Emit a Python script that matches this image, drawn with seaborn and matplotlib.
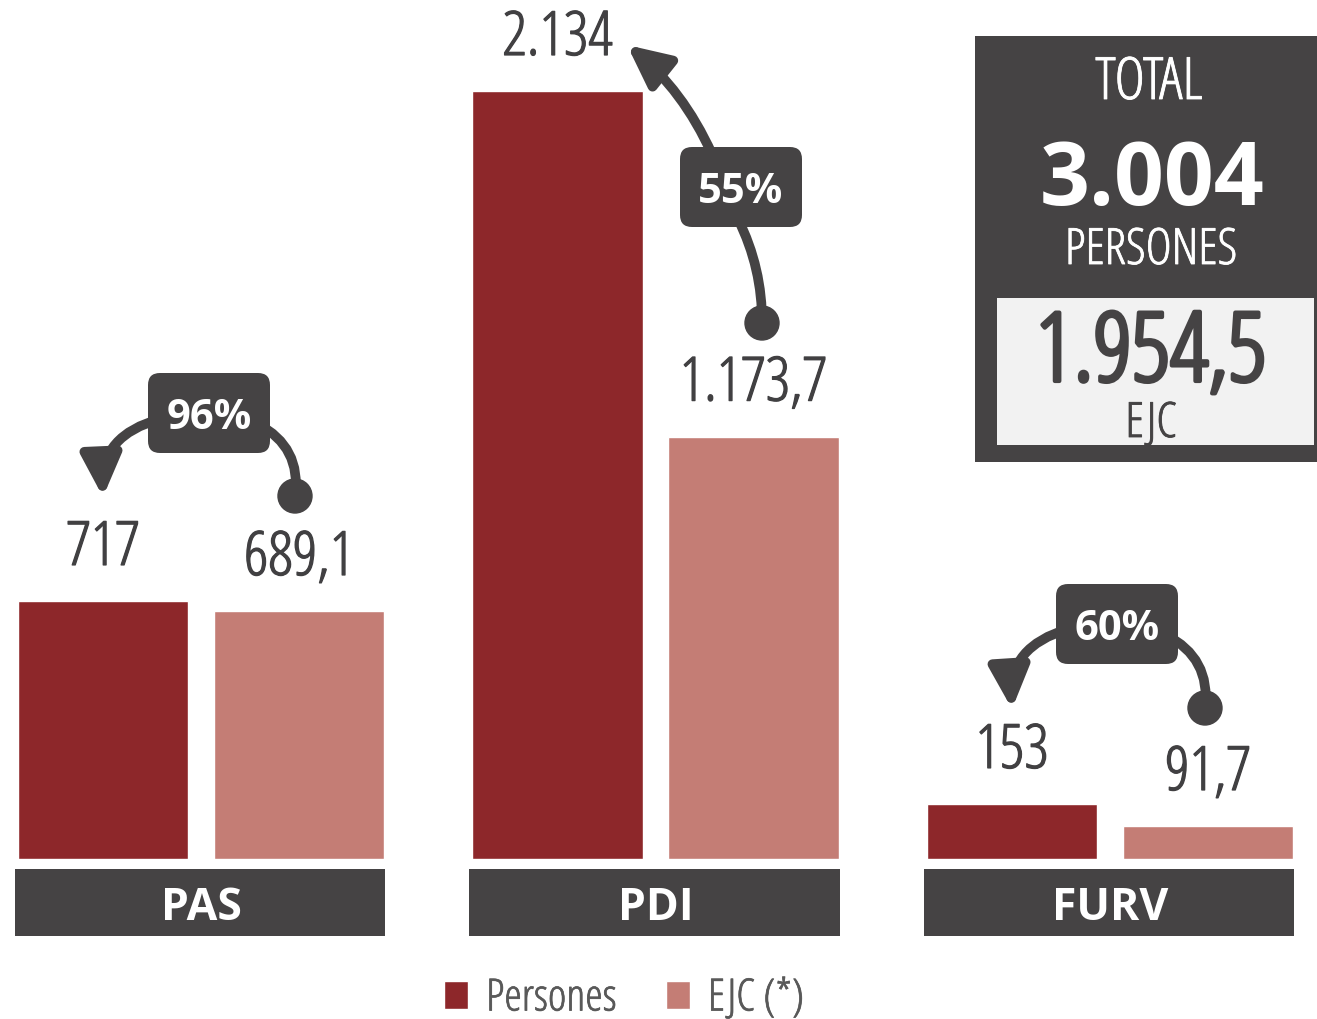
import numpy as np
import pandas as pd
import seaborn as sns
import matplotlib.pyplot as plt
import matplotlib.patheffects as pe
from matplotlib.patches import FancyArrowPatch, FancyBboxPatch, Rectangle, Circle

# dades
categories = ["PAS", "PDI", "FURV"]
series = ["Persones", "EJC (*)"]
persones = [717, 2134, 153]
ejc = [689.1, 1173.7, 91.7]
persones_labels = ["717", "2.134", "153"]
ejc_labels = ["689,1", "1.173,7", "91,7"]
total_persones = "3.004"
total_ejc = "1.954,5"

W, H = 1317, 1020
RED = "#8D272A"
PINK = "#C47D75"
DARK = "#454344"
TXT = "#414042"

sns.set_theme(style="white")
plt.rcParams["font.family"] = ["Open Sans", "DejaVu Sans"]
plt.rcParams["font.stretch"] = "condensed"

fig = plt.figure(figsize=(W / 100, H / 100), dpi=100)
ax = fig.add_axes([0, 160 / H, 1, 860 / H])

df = pd.DataFrame({
    "cat": categories * 2,
    "tipus": [series[0]] * 3 + [series[1]] * 3,
    "valor": persones + ejc,
})
sns.barplot(data=df, x="cat", y="valor", hue="tipus", palette=[RED, PINK],
            saturation=1, width=0.862, gap=0.128, ax=ax)
ax.set_xlim(-201 / 454.5, (W - 201) / 454.5)
ax.set_ylim(0, 860 * 2134 / 768)
ax.axis("off")
handles, labels = ax.get_legend_handles_labels()
ax.get_legend().remove()

# overlay in pixel coords
ov = fig.add_axes([0, 0, 1, 1], zorder=3)
ov.set_xlim(0, W)
ov.set_ylim(H, 0)
ov.axis("off")
ov.patch.set_alpha(0)


def to_px(x, y):
    dx, dy = ax.transData.transform((x, y))
    return dx, H - dy


def txt(x, y, s, size, color, stroke=0.0, bold=False, z=4):
    # light condensed font, thickened a little with a stroke
    fx = [pe.withStroke(linewidth=stroke, foreground=color)] if stroke else []
    ov.text(x, y, s, ha="center", va="baseline", fontsize=size, color=color, zorder=z,
            fontweight="bold" if bold else "normal", path_effects=fx)


# value labels over bars
for cont, labs in zip(ax.containers, [persones_labels, ejc_labels]):
    for bar, lab in zip(cont, labs):
        xc, top = to_px(bar.get_x() + bar.get_width() / 2, bar.get_height())
        txt(xc, top - 36, lab, 44, TXT, 0.9)

# category boxes
for i, cat in enumerate(categories):
    b0 = ax.containers[0][i]
    b1 = ax.containers[1][i]
    l, _ = to_px(b0.get_x(), 0)
    r, _ = to_px(b1.get_x() + b1.get_width(), 0)
    ov.add_patch(Rectangle((l - 3, 870), r - l + 4, 67, color=DARK, lw=0))
    txt((l + r) / 2, 920, cat, 32, "white", bold=True)

# callouts: box centre, arrow (start, end, rad), connector (start, end, rad)
callouts = [
    ((209, 414), ((160, 420), (103, 498), 0.4), ((258, 425), (295, 497), -0.35)),
    ((741, 188), ((712, 155), (627, 46), 0.12), ((738, 220), (762, 324), -0.12)),
    ((1117, 625), ((1068, 630), (1012, 710), 0.4), ((1166, 636), (1205, 709), -0.35)),
]
for (p, e), (box, arr, con) in zip(zip(persones, ejc), callouts):
    pct = f"{round(100 * e / p)}%"
    a = FancyArrowPatch(arr[0], arr[1], connectionstyle=f"arc3,rad={arr[2]}",
                        arrowstyle="-|>,head_length=25,head_width=12",
                        mutation_scale=1, lw=7, color=DARK, zorder=2,
                        shrinkA=0, shrinkB=0)
    ov.add_patch(a)
    c = FancyArrowPatch(con[0], con[1], connectionstyle=f"arc3,rad={con[2]}",
                        arrowstyle="-", lw=7, color=DARK, zorder=2,
                        shrinkA=0, shrinkB=0)
    ov.add_patch(c)
    ov.add_patch(Circle(con[1], 17, color=DARK, zorder=2))
    bx, by = box
    ov.add_patch(FancyBboxPatch((bx - 61 + 12, by - 40 + 12), 122 - 24, 80 - 24,
                                boxstyle="round,pad=12,rounding_size=12",
                                color=DARK, lw=0, zorder=3))
    txt(bx, by + 15, pct, 30, "white", bold=True)

# total box
ov.add_patch(Rectangle((975, 37), W - 975, 426, color=DARK, lw=0))
ov.add_patch(Rectangle((997, 299), 317, 147, color="#F2F2F2", lw=0))
txt(1149, 100, "TOTAL", 42, "white", 0.6)
txt(1152, 205, total_persones, 63, "white", bold=True)
txt(1151, 265, "PERSONES", 36, "white", 0.6)
txt(1151, 382, total_ejc, 69, DARK, 3.0)
txt(1151, 438, "EJC", 35, DARK, 0.6)

leg = fig.legend(handles, labels, loc="center", bbox_to_anchor=(624 / W, 1 - 1000 / H),
                 ncol=2, frameon=False, fontsize=32, handlelength=0.55, handleheight=0.6,
                 handletextpad=0.4, columnspacing=1.1, labelcolor="#595959")
for t in leg.get_texts():
    t.set_path_effects([pe.withStroke(linewidth=0.5, foreground="#595959")])

fig.savefig("out.png", dpi=100)
